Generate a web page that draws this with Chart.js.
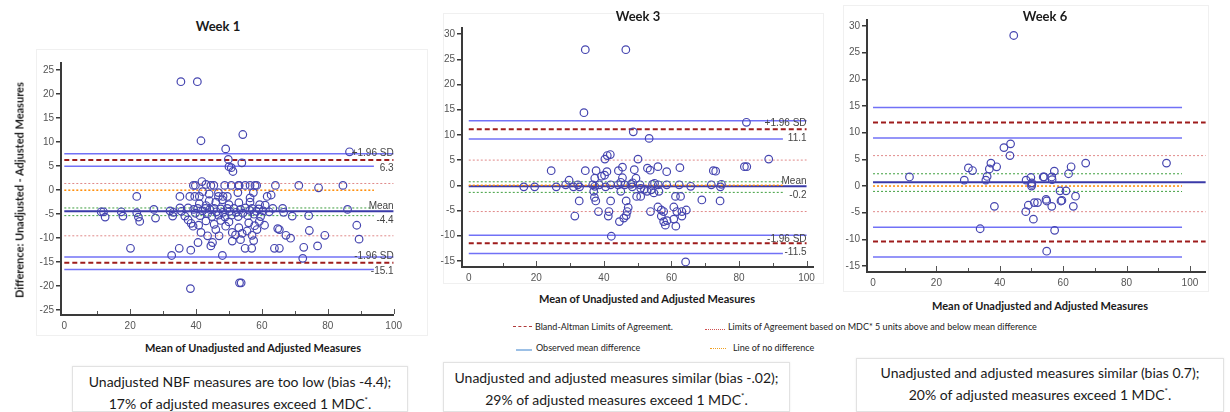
<!DOCTYPE html>
<html>
<head>
<meta charset="utf-8">
<script src="https://cdn.jsdelivr.net/npm/chart.js@4.4.0/dist/chart.umd.min.js"></script>
<style>
  body { margin: 0; width: 1230px; height: 412px; background: #fff; position: relative; overflow: hidden;
         font-family: Lato, "Open Sans", sans-serif; color: #1a1a1a; }
  canvas { position: absolute; }
  .frame { position: absolute; border: 1px solid #f0f0f0; }
  .title { position: absolute; font-weight: bold; font-size: 13px; transform: translate(-50%, -50%); white-space: nowrap; }
  .xtitle { position: absolute; font-weight: bold; font-size: 11px; transform: translate(-50%, -50%); white-space: nowrap; }
  .ytitle { position: absolute; font-weight: bold; font-size: 11px; transform: translate(-50%, -50%) rotate(-90deg); white-space: nowrap; }
  .leg { position: absolute; font-size: 9px; white-space: nowrap; transform: translateY(-50%); color: #222; }
  .swatch { position: absolute; height: 0; }
  .note { position: absolute; border: 1px solid #e2e2e2; box-shadow: 0 0 2px rgba(0,0,0,0.08);
          text-align: center; font-size: 14px; line-height: 19px; box-sizing: border-box; }
  .note sup { font-size: 8px; }
</style>
</head>
<body>

<div class="frame" style="left:36px;top:49px;width:390px;height:285px;"></div>
<div class="frame" style="left:443px;top:13px;width:379px;height:269px;"></div>
<div class="frame" style="left:843px;top:5px;width:364px;height:285px;"></div>

<canvas id="week1" width="386" height="282" style="left:21px;top:55px;"></canvas>
<canvas id="week3" width="398" height="269" style="left:422px;top:20px;"></canvas>
<canvas id="week6" width="384" height="282" style="left:827px;top:12px;"></canvas>

<div class="title" style="left:218px;top:26px;">Week 1</div>
<div class="title" style="left:638px;top:16px;">Week 3</div>
<div class="title" style="left:1045px;top:16px;">Week 6</div>

<div class="ytitle" style="left:19px;top:190px;">Difference: Unadjusted - Adjusted Measures</div>
<div class="xtitle" style="left:253px;top:347px;">Mean of Unadjusted and Adjusted Measures</div>
<div class="xtitle" style="left:647px;top:298px;">Mean of Unadjusted and Adjusted Measures</div>
<div class="xtitle" style="left:1040px;top:305px;">Mean of Unadjusted and Adjusted Measures</div>

<div class="swatch" style="left:513px;top:326px;width:19px;border-top:1px dashed #b03a3a;"></div>
<div class="leg" style="left:535px;top:326px;">Bland-Altman Limits of Agreement.</div>
<div class="swatch" style="left:705px;top:329px;width:20px;border-top:1px dotted #d05050;"></div>
<div class="leg" style="left:728px;top:326px;">Limits of Agreement based on MDC* 5 units above and below mean difference</div>
<div class="swatch" style="left:516px;top:349px;width:16px;border-top:2px solid #9cc0e6;"></div>
<div class="leg" style="left:536px;top:347px;">Observed mean difference</div>
<div class="swatch" style="left:710px;top:348px;width:16px;border-top:1px dotted #f0a020;"></div>
<div class="leg" style="left:733px;top:347px;">Line of no difference</div>

<div class="note" style="left:72px;top:366px;width:336px;height:46px;padding-top:5px;">Unadjusted NBF measures are too low (bias -4.4);<br>17% of adjusted measures exceed 1 MDC<sup>*</sup>.</div>
<div class="note" style="left:443px;top:362px;width:347px;height:50px;padding-top:5px;">Unadjusted and adjusted measures similar (bias -.02);<br>29% of adjusted measures exceed 1 MDC<sup>*</sup>.</div>
<div class="note" style="left:856px;top:358px;width:368px;height:54px;padding-top:4px;">Unadjusted and adjusted measures similar (bias 0.7);<br>20% of adjusted measures exceed 1 MDC<sup>*</sup>.</div>

<script>
// Week 1 points: [mean, difference]
const week1Points = [
  [35.4, 22.6], [40.4, 22.6], [41.5, 10.3], [54.2, 11.6], [49.0, 8.6], [49.8, 6.4], [50.0, 4.9], [50.7, 4.7],
  [51.2, 3.9], [53.9, 5.7], [86.6, 8.0],
  [39.2, 1.0], [39.8, 1.0], [41.8, 1.8], [43.0, 1.2], [44.5, 1.0], [45.4, 1.0], [48.7, 1.0], [50.7, 1.0],
  [52.9, 1.0], [53.1, 1.0], [54.9, 1.0], [56.4, 1.0], [57.9, 1.0], [58.4, 1.0], [64.1, 1.0], [71.2, 1.0],
  [84.6, 1.0], [77.2, 0.5],
  [42.0, -0.3], [46.8, -0.5], [52.7, -0.5], [57.4, -0.5], [44.0, -0.8],
  [22.0, -1.3], [35.1, -1.3], [38.1, -1.3], [39.6, -1.3], [41.0, -1.3], [46.8, -1.3], [48.2, -1.3],
  [49.5, -1.3], [56.4, -1.6], [61.6, -1.3], [62.8, -1.0],
  [41.0, -2.8], [44.0, -2.2], [46.0, -2.5], [48.0, -2.0], [50.0, -3.0], [53.0, -2.6], [56.4, -2.5],
  [59.3, -3.0], [43.0, -3.2],
  [11.2, -4.5], [11.9, -4.5], [12.4, -5.6], [17.3, -4.5], [17.8, -5.4], [22.0, -4.7], [22.5, -5.6],
  [22.9, -6.5], [27.2, -4.0], [27.7, -5.8], [32.1, -4.3], [32.9, -5.4], [33.1, -4.6], [35.1, -3.7],
  [35.6, -4.4], [36.6, -5.4], [37.6, -3.7], [37.6, -6.2], [39.3, -4.0], [39.8, -4.8], [40.5, -3.8],
  [41.2, -5.3], [42.0, -4.3], [42.8, -3.8], [43.5, -4.9], [44.2, -4.0], [44.8, -5.5], [45.5, -3.8],
  [46.2, -4.5], [46.8, -5.2], [47.5, -3.9], [48.2, -4.6], [48.8, -5.6], [49.5, -3.8], [50.2, -4.4],
  [50.8, -5.2], [51.5, -3.8], [52.2, -4.6], [52.8, -5.5], [53.5, -4.0], [54.2, -4.8], [55.0, -3.7],
  [55.7, -5.3], [56.3, -4.2], [57.0, -3.8], [57.6, -5.0], [58.3, -4.4], [59.0, -3.9], [59.6, -5.5],
  [60.4, -4.3], [61.0, -3.1], [62.2, -4.5], [63.3, -3.8], [66.3, -3.8], [66.6, -4.6], [69.2, -5.4],
  [74.2, -5.3], [86.0, -4.0],
  [38.5, -6.9], [39.1, -7.5], [40.8, -7.3], [41.5, -8.8], [43.0, -6.4], [43.5, -9.5], [45.5, -7.1],
  [46.0, -8.2], [47.0, -9.5], [47.5, -6.3], [49.0, -7.5], [50.0, -6.6], [51.0, -8.8], [52.0, -9.3],
  [53.0, -7.8], [54.0, -9.0], [55.5, -8.5], [56.0, -6.8], [57.0, -9.4], [57.8, -7.4], [58.5, -8.2],
  [59.2, -6.5], [60.8, -7.3], [64.8, -8.0], [65.3, -8.2], [67.3, -9.4], [68.7, -10.0], [74.4, -8.4],
  [79.1, -9.4], [88.8, -7.3], [89.5, -10.2],
  [20.1, -12.1], [32.6, -13.6], [34.9, -12.1], [38.4, -12.5], [40.6, -10.9], [44.5, -11.6], [45.0, -10.9],
  [48.0, -13.6], [51.0, -10.6], [53.5, -10.3], [54.9, -12.1], [56.9, -12.1], [57.5, -10.5], [63.8, -12.1],
  [65.3, -12.1], [72.7, -11.9], [76.9, -11.6], [72.4, -14.2],
  [53.2, -19.3], [53.7, -19.3], [38.3, -20.5]
];
const week1Limits = [6.3, -15.1];
const week1LimitCI = [7.6, 5.0, -13.9, -16.5];
const week1Mdc = [1.4, -9.5];
const week1MeanCI = [-3.7, -5.3];
const week1Mean = -4.4;

// Week 3 points
const week3Points = [
  [34.5, 26.9], [46.5, 26.9], [34.1, 14.4], [48.7, 10.6], [53.4, 9.3], [82.2, 12.5], [88.8, 5.2],
  [40.3, 5.2], [41.0, 5.9], [41.9, 6.1], [50.1, 5.2],
  [24.4, 2.9], [34.5, 2.9], [37.7, 2.9], [39.3, 1.8], [40.2, 2.0], [40.9, 2.7], [44.3, 2.9], [45.5, 3.6],
  [45.5, 1.5], [49.0, 3.1], [49.5, 1.4], [52.9, 3.4], [53.7, 3.0], [56.0, 3.7], [58.6, 2.7], [62.5, 3.5],
  [72.4, 2.9], [73.1, 2.8], [81.6, 3.7], [82.3, 3.7], [37.3, 1.4], [29.7, 1.0],
  [28.7, 0.1], [32.3, 0.1], [36.7, 0.1], [38.6, 0.1], [42.0, 0.1], [44.2, 0.1], [46.2, 0.1], [48.0, 0.2],
  [50.7, 0.1], [54.4, 0.2], [56.1, 0.1], [58.6, 0.1], [62.3, 0.1], [71.8, 0.1], [74.8, 0.2], [45.0, 0.6],
  [48.5, 0.5], [55.0, 0.4],
  [16.3, -0.3], [19.5, -0.3], [25.9, -0.3], [31.0, -0.3], [32.8, -0.3], [37.3, -0.2], [40.5, -0.3],
  [48.4, -0.3], [50.9, -0.6], [65.7, -0.2], [74.5, -0.3], [52.0, -0.8], [54.0, -0.9],
  [37.2, -2.4], [37.0, -1.2], [45.0, -1.2], [49.7, -2.2], [50.9, -2.2], [52.8, -1.2], [54.8, -1.5],
  [56.3, -1.2], [61.2, -2.2], [62.7, -2.2],
  [32.7, -3.1], [37.6, -3.1], [42.0, -3.1], [46.6, -3.1], [69.0, -2.9], [74.4, -3.1],
  [38.4, -5.2], [41.5, -5.2], [47.2, -4.4], [46.9, -5.2], [53.8, -5.2], [56.0, -4.3], [57.0, -4.9],
  [57.7, -5.2], [60.7, -4.3], [61.6, -5.2], [63.1, -5.2], [64.4, -4.9],
  [31.4, -6.1], [41.3, -6.1], [46.6, -6.0], [45.9, -6.5], [57.0, -6.1], [63.1, -6.1], [60.7, -6.7],
  [44.6, -7.2], [57.7, -7.2], [58.7, -7.0], [58.2, -7.9], [61.3, -8.1],
  [42.2, -10.1], [64.2, -15.2]
];
const week3Limits = [11.1, -11.5];
const week3LimitCI = [12.8, 9.2, -9.9, -13.5];
const week3Mdc = [5.0, -5.2];
const week3MeanCI = [0.7, -1.4];
const week3Mean = -0.2;

// Week 6 points
const week6Points = [
  [44.4, 28.2], [11.5, 1.7], [28.8, 1.1], [30.1, 3.4], [31.4, 2.9], [35.6, 1.1], [36.0, 1.8], [36.7, 3.2],
  [37.2, 4.3], [39.0, 3.6], [41.3, 7.2], [43.4, 7.9], [43.2, 5.7], [48.3, 1.1], [49.8, 1.6], [50.1, 0.6],
  [50.1, 0.3], [50.0, 0.0], [49.0, -3.6], [48.2, -4.8], [50.6, -6.2], [50.9, -3.1], [51.9, -3.1],
  [53.7, 1.7], [54.0, 1.7], [54.6, -2.5], [54.8, -2.8], [56.4, 1.7], [56.5, 1.2], [56.4, -3.8],
  [57.2, 2.8], [57.3, -8.3], [54.8, -12.2], [59.0, -0.9], [60.9, -0.9], [59.3, -2.8], [59.6, -2.7],
  [61.7, 2.3], [62.5, 3.6], [63.2, -3.8], [63.9, -1.9], [67.1, 4.3], [92.6, 4.3], [33.8, -8.0], [38.3, -3.8]
];
const week6Limits = [11.9, -10.4];
const week6LimitCI = [14.7, 9.0, -7.7, -13.3];
const week6Mdc = [5.7, -4.8];
const week6MeanCI = [2.3, -1.0];
const week6Mean = 0.7;

// draws the "+1.96 SD" / "Mean" etc. text at right end of lines
const rightLabels = {
  id: 'rightLabels',
  afterDatasetsDraw(chart, args, opts) {
    if (!opts.items) return;
    const ctx = chart.ctx;
    const xs = chart.scales.x;
    const ys = chart.scales.y;
    ctx.save();
    ctx.font = '10px Arial';
    ctx.fillStyle = '#444';
    ctx.textAlign = 'right';
    ctx.textBaseline = 'middle';
    opts.items.forEach(it => {
      ctx.fillText(it.text, xs.getPixelForValue(opts.at), ys.getPixelForValue(it.y) + it.dy);
    });
    ctx.restore();
  }
};

// small tick marks pointing up from the x axis
const innerTicks = {
  id: 'innerTicks',
  afterDraw(chart) {
    const ctx = chart.ctx;
    const xs = chart.scales.x;
    const y0 = chart.chartArea.bottom;
    ctx.save();
    ctx.strokeStyle = '#555';
    ctx.lineWidth = 1;
    ctx.beginPath();
    for (let v = 10; v <= 100; v += 10) {
      const px = Math.round(xs.getPixelForValue(v)) + 0.5;
      ctx.moveTo(px, y0 - 1);
      ctx.lineTo(px, y0 - (v % 20 ? 4 : 6));
    }
    ctx.stroke();
    ctx.restore();
  }
};

function hline(y, x0, x1, color, width, dash) {
  return {
    type: 'line',
    data: [{ x: x0, y: y }, { x: x1, y: y }],
    borderColor: color,
    borderWidth: width,
    borderDash: dash || [],
    pointRadius: 0,
    fill: false,
    order: 2
  };
}

function buildLines(limits, ci, mdc, meanCI, mean, shortEnd, ciLongEnd, fullEnd) {
  const blue = 'rgba(105,105,245,0.95)';
  return [
    hline(ci[0], 0, ciLongEnd, blue, 1.5),
    hline(ci[1], 0, shortEnd, blue, 1.5),
    hline(ci[2], 0, ciLongEnd, blue, 1.5),
    hline(ci[3], 0, shortEnd, blue, 1.5),
    hline(mdc[0], 0, fullEnd, '#e08a8a', 1, [2, 2]),
    hline(mdc[1], 0, fullEnd, '#e08a8a', 1, [2, 2]),
    hline(meanCI[0], 0, shortEnd, '#3f9f3f', 1, [2, 2]),
    hline(meanCI[1], 0, shortEnd, '#3f9f3f', 1, [2, 2]),
    hline(0, 0, shortEnd, '#ff8a00', 1.5, [2, 2]),
    hline(mean, 0, fullEnd, '#3a3aa8', 2),
    hline(limits[0], 0, fullEnd, '#9e1c1c', 2, [5, 3]),
    hline(limits[1], 0, fullEnd, '#9e1c1c', 2, [5, 3])
  ];
}

function makeChart(id, points, lines, xRange, yRange, labels) {
  const ctx = document.getElementById(id).getContext('2d');
  const tickFont = { family: 'Arial', size: 10 };
  return new Chart(ctx, {
    type: 'scatter',
    data: {
      datasets: [{
        type: 'scatter',
        data: points.map(p => ({ x: p[0], y: p[1] })),
        borderColor: '#4646b0',
        backgroundColor: 'rgba(0,0,0,0)',
        borderWidth: 1.2,
        pointRadius: 3.8,
        order: 0
      }].concat(lines)
    },
    options: {
      responsive: false,
      animation: false,
      layout: { padding: { top: 5, right: 5, left: 0, bottom: 0 } },
      plugins: {
        legend: { display: false },
        tooltip: { enabled: false },
        rightLabels: labels || {}
      },
      scales: {
        x: {
          type: 'linear',
          min: xRange[0],
          max: xRange[1],
          afterFit: s => { s.height = 22; },
          grid: { display: false, drawTicks: false },
          border: { display: true, color: '#3a3a3a', width: 2 },
          ticks: { stepSize: 20, includeBounds: false, padding: 5, color: '#555', font: tickFont, maxRotation: 0 }
        },
        y: {
          type: 'linear',
          min: yRange[0],
          max: yRange[1],
          afterFit: s => { s.width = 40; },
          grid: { drawOnChartArea: false, drawTicks: true, tickLength: 5, color: '#3a3a3a', lineWidth: 1.5 },
          border: { display: true, color: '#3a3a3a', width: 2 },
          ticks: { stepSize: 5, includeBounds: false, padding: 2, color: '#555', font: tickFont }
        }
      }
    },
    plugins: [rightLabels, innerTicks]
  });
}

makeChart('week1', week1Points,
  buildLines(week1Limits, week1LimitCI, week1Mdc, week1MeanCI, week1Mean, 94, 100, 100),
  [-1, 100], [-26, 26.5],
  { at: 100, items: [
    { text: '+1.96 SD', y: week1Limits[0], dy: -6.5 },
    { text: week1Limits[0].toFixed(1), y: week1Limits[0], dy: 8.5 },
    { text: 'Mean', y: week1Mean, dy: -5.5 },
    { text: week1Mean.toFixed(1), y: week1Mean, dy: 8.5 },
    { text: '-1.96 SD', y: week1Limits[1], dy: -6.5 },
    { text: week1Limits[1].toFixed(1), y: week1Limits[1], dy: 8.5 }
  ] });

makeChart('week3', week3Points,
  buildLines(week3Limits, week3LimitCI, week3Mdc, week3MeanCI, week3Mean, 93, 100, 100),
  [-2, 102], [-16.2, 31.2],
  { at: 100, items: [
    { text: '+1.96 SD', y: week3Limits[0], dy: -6 },
    { text: week3Limits[0].toFixed(1), y: week3Limits[0], dy: 9 },
    { text: 'Mean', y: week3Mean, dy: -5 },
    { text: week3Mean.toFixed(1), y: week3Mean, dy: 8.5 },
    { text: '-1.96 SD', y: week3Limits[1], dy: -4.5 },
    { text: week3Limits[1].toFixed(1), y: week3Limits[1], dy: 9 }
  ] });

makeChart('week6', week6Points,
  buildLines(week6Limits, week6LimitCI, week6Mdc, week6MeanCI, week6Mean, 97.5, 97.5, 105),
  [-1.9, 105], [-16.1, 31.1]);
</script>
</body>
</html>
